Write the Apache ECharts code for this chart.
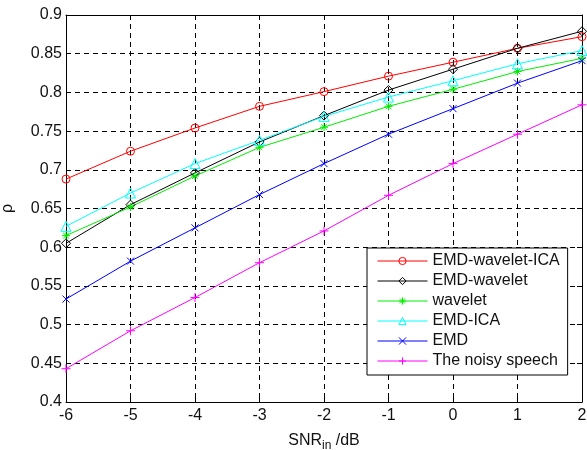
<!DOCTYPE html>
<html>
<head>
<meta charset="utf-8">
<script src="https://cdn.jsdelivr.net/npm/echarts@6/dist/echarts.min.js"></script>
<style>
  html, body { margin: 0; padding: 0; background: #fff; }
  #main { width: 587px; height: 450px; }
</style>
</head>
<body>
<div id="main"></div>
<script>
// SNR_in (dB)
var snr = [-6, -5, -4, -3, -2, -1, 0, 1, 2];

// rho for each method
var emdWaveletIca = [0.688, 0.724, 0.754, 0.782, 0.801, 0.821, 0.839, 0.857, 0.872];
var emdWavelet    = [0.605, 0.655, 0.696, 0.736, 0.770, 0.803, 0.830, 0.857, 0.879];
var wavelet       = [0.615, 0.652, 0.692, 0.729, 0.755, 0.782, 0.804, 0.827, 0.844];
var emdIca        = [0.627, 0.670, 0.708, 0.738, 0.769, 0.794, 0.815, 0.837, 0.854];
var emd           = [0.533, 0.582, 0.625, 0.668, 0.708, 0.746, 0.779, 0.812, 0.841];
var noisySpeech   = [0.443, 0.492, 0.535, 0.580, 0.621, 0.667, 0.708, 0.746, 0.784];

var names = ['EMD-wavelet-ICA', 'EMD-wavelet', 'wavelet', 'EMD-ICA', 'EMD', 'The noisy speech'];

var FONT = 'Liberation Sans';

function pairs(ys) {
    return snr.map(function (x, i) { return [x, ys[i]]; });
}

var circlePath = 'path://M10,5A5,5,0,1,1,0,5A5,5,0,1,1,10,5Z';
var diamondPath = 'path://M5,0L10,5L5,10L0,5Z';
var trianglePath = 'path://M5,0L10,9L0,9Z';
var starPath = 'path://M5,0L5,10M0,5L10,5M1.5,1.5L8.5,8.5M8.5,1.5L1.5,8.5';
var crossPath = 'path://M0,0L10,10M10,0L0,10';
var plusPath = 'path://M5,0L5,10M0,5L10,5';

function makeSeries(name, ys, color, symbol, size) {
    return {
        name: name,
        type: 'line',
        data: pairs(ys),
        symbol: symbol,
        symbolSize: size,
        lineStyle: { color: color, width: 1 },
        itemStyle: { color: 'rgba(0,0,0,0)', borderColor: color, borderWidth: 1 },
        emphasis: { disabled: true },
        animation: false
    };
}

var myChart = echarts.init(document.getElementById('main'));

var axisLine = { show: true, onZero: false, lineStyle: { color: '#000', width: 1 } };
var splitDash = { show: true, lineStyle: { color: '#000', type: [5, 4], width: 1 } };
var ticksIn = { show: true, inside: true, length: 5, lineStyle: { color: '#000' } };

myChart.setOption({
    backgroundColor: '#fff',
    textStyle: { fontFamily: FONT },
    grid: { left: 66, top: 15, right: 5, bottom: 48, outerBoundsMode: 'none', containLabel: false },
    legend: {
        orient: 'vertical',
        left: 367,
        top: 248,
        data: names,
        itemWidth: 50,
        itemHeight: 9,
        itemGap: 4,
        padding: [5, 8, 6, 10],
        backgroundColor: '#fff',
        borderColor: '#000',
        borderWidth: 1,
        borderRadius: 0,
        lineStyle: { width: 1 },
        itemStyle: { borderWidth: 1 },
        textStyle: { fontFamily: FONT, fontSize: 16, color: '#111' }
    },
    xAxis: [{
        type: 'value',
        min: -6,
        max: 2,
        interval: 1,
        name: 'SNR{sub|in} /dB',
        nameLocation: 'middle',
        nameGap: 28,
        nameTextStyle: {
            fontFamily: FONT, fontSize: 16, color: '#111',
            rich: { sub: { fontFamily: FONT, fontSize: 12, color: '#111', padding: [10, 0, 0, 0] } }
        },
        axisLine: axisLine,
        axisTick: ticksIn,
        axisLabel: { fontFamily: FONT, fontSize: 16, color: '#111', margin: 6 },
        splitLine: splitDash
    }, {
        type: 'value',
        position: 'top',
        min: -6,
        max: 2,
        interval: 1,
        axisLine: axisLine,
        axisTick: ticksIn,
        axisLabel: { show: false },
        splitLine: { show: false }
    }],
    yAxis: [{
        type: 'value',
        min: 0.4,
        max: 0.9,
        interval: 0.05,
        name: 'ρ',
        nameLocation: 'middle',
        nameGap: 50,
        nameTextStyle: { fontFamily: FONT, fontSize: 16, color: '#111' },
        axisLine: axisLine,
        axisTick: ticksIn,
        axisLabel: { fontFamily: FONT, fontSize: 16, color: '#111', margin: 4 },
        splitLine: splitDash
    }, {
        type: 'value',
        position: 'right',
        min: 0.4,
        max: 0.9,
        interval: 0.05,
        axisLine: axisLine,
        axisTick: ticksIn,
        axisLabel: { show: false },
        splitLine: { show: false }
    }],
    series: [
        makeSeries(names[0], emdWaveletIca, '#ff0000', circlePath, 8),
        makeSeries(names[1], emdWavelet, '#000000', diamondPath, 9),
        makeSeries(names[2], wavelet, '#00ee00', starPath, 8),
        makeSeries(names[3], emdIca, '#00ffff', trianglePath, 10),
        makeSeries(names[4], emd, '#0000ff', crossPath, 7),
        makeSeries(names[5], noisySpeech, '#ff00ff', plusPath, 9)
    ]
});
</script>
</body>
</html>
